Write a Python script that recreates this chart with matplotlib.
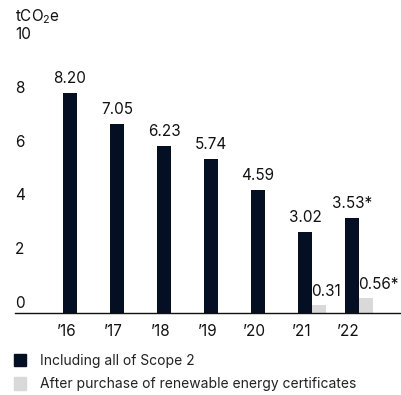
import matplotlib
matplotlib.use("Agg")
import matplotlib.pyplot as plt
from matplotlib.patches import Patch
import matplotlib.transforms as mtrans

plt.rcParams["font.family"] = ["Inter", "DejaVu Sans"]
plt.rcParams["mathtext.fontset"] = "custom"
plt.rcParams["mathtext.rm"] = "Inter"

years = ["’16", "’17", "’18", "’19", "’20", "’21", "’22"]
scope2 = [8.20, 7.05, 6.23, 5.74, 4.59, 3.02, 3.53]
scope2_labels = ["8.20", "7.05", "6.23", "5.74", "4.59", "3.02", "3.53*"]
rec_idx = [5, 6]
rec_vals = [0.31, 0.56]
rec_labels = ["0.31", "0.56*"]
yticks = [0, 2, 4, 6, 8, 10]

dark = "#050f23"
light = "#d9d9d9"
w = 0.3
fs = 11

fig = plt.figure(figsize=(4.01, 3.95), dpi=100)
ax = fig.add_axes([15 / 401, 82 / 395, 386 / 401, 281.4 / 395])

x = list(range(len(years)))
ax.bar(x, scope2, width=w, color=dark)
ax.bar([i + w for i in rec_idx], rec_vals, width=w, color=light)

for i, v, t in zip(x, scope2, scope2_labels):
    ax.annotate(t, (i, v), xytext=(0, 5), textcoords="offset points",
                ha="center", va="bottom", fontsize=fs, color="#111111")
for i, v, t in zip(rec_idx, rec_vals, rec_labels):
    ax.annotate(t, (i + w / 2, v), xytext=(-1, 4), textcoords="offset points",
                ha="left", va="bottom", fontsize=fs, color="#111111", clip_on=False)

ax.set_xlim(-1.17, 7.04)
ax.set_ylim(0, 10.5)
ax.set_xticks([i - 0.08 for i in x])
ax.set_xticklabels(years, fontsize=fs, color="#111111")
ax.tick_params(axis="x", length=0, pad=8)
ax.set_yticks([])
for s in ["top", "right", "left"]:
    ax.spines[s].set_visible(False)
ax.spines["bottom"].set_color("#111111")
ax.spines["bottom"].set_linewidth(1)

# y labels sit above their level, left aligned
tr = mtrans.blended_transform_factory(ax.transAxes, ax.transData)
for v in yticks:
    yy = v + 0.37 if v < 10 else 10.4
    ax.text(0, yy, str(v), transform=tr, ha="left", va="center",
            fontsize=fs, color="#111111")
fig.text(15 / 401, 1 - 17 / 395, r"tCO$_\mathregular{2}$e", ha="left", va="center",
         fontsize=fs, color="#111111")

handles = [Patch(color=dark), Patch(color=light)]
fig.legend(handles, ["Including all of Scope 2",
                     "After purchase of renewable energy certificates"],
           loc="upper left", bbox_to_anchor=(1 / 401, 1 - 341 / 395),
           frameon=False, fontsize=10, handlelength=0.9, handleheight=1.0,
           handletextpad=1.0, labelspacing=0.7, labelcolor="#222222")

fig.savefig("out.png", dpi=100)
